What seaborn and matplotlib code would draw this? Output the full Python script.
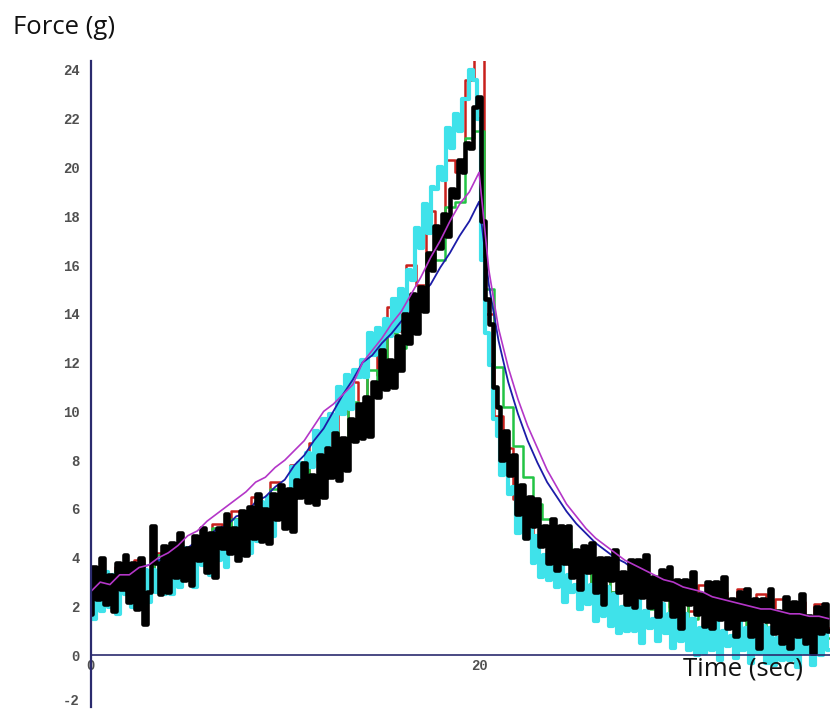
import numpy as np
import pandas as pd
import matplotlib
matplotlib.use("Agg")
import matplotlib.pyplot as plt
import matplotlib.transforms as mtransforms
import seaborn as sns

# Sampling intervals (seconds) of the recorded traces
fine_step = 0.2
coarse_step = 0.5

# Force readings (g), one list per trial; fine traces: 5 samples per second
force_black = [
    1.7, 3.6, 2.3, 4.0, 2.1,   3.3, 1.8, 3.8, 2.7, 4.1,
    2.2, 3.8, 1.9, 4.0, 1.3,   2.6, 5.3, 3.8, 2.5, 4.5,
    2.6, 4.6, 3.2, 5.0, 3.1,   4.4, 2.9, 4.9, 3.9, 5.2,
    3.4, 5.0, 3.2, 5.2, 4.4,   5.8, 4.2, 5.2, 3.9, 5.9,
    4.1, 6.1, 4.8, 6.6, 4.7,   6.0, 4.6, 6.6, 5.6, 7.0,
    5.2, 6.8, 5.1, 7.2, 6.5,   7.9, 6.3, 7.4, 6.2, 8.2,
    6.5, 8.5, 7.3, 9.1, 7.2,   8.9, 7.6, 9.7, 8.8, 10.3,
    8.9, 10.6, 9.0, 11.2, 10.6,  12.5, 10.9, 12.1, 11.0, 13.1,
    11.7, 14.0, 12.8, 14.8, 13.2,  15.1, 14.1, 16.5, 15.8, 17.6,
    16.7, 18.1, 17.2, 19.1, 18.8,  20.3, 19.8, 21.0, 20.8, 22.5,
    22.9, 17.8, 14.6, 13.6, 11.0,  10.2, 8.0, 9.2, 7.4, 8.2,
    5.8, 7.0, 4.8, 6.5, 5.3,   6.4, 4.5, 5.3, 3.8, 5.6,
    3.5, 5.3, 3.8, 5.3, 3.2,   4.3, 2.7, 4.5, 3.4, 4.6,
    2.6, 4.0, 2.1, 4.0, 3.1,   4.3, 2.6, 3.4, 2.1, 3.9,
    2.0, 3.9, 2.4, 4.1, 2.0,   3.2, 1.6, 3.5, 2.3, 3.6,
    1.6, 3.1, 1.1, 3.1, 2.1,   3.4, 1.7, 2.5, 1.2, 3.0,
    1.1, 3.0, 1.5, 3.2, 1.1,   2.3, 0.8, 2.6, 1.5, 2.7,
    0.8, 2.3, 0.3, 2.3, 1.4,   2.7, 0.9, 1.8, 0.5, 2.4,
    0.3, 2.2, 0.8, 2.5, 0.5,   1.6, 0.1, 2.0, 0.9, 2.1,
    1.0,
]
force_cyan = [
    3.0, 1.5, 2.7, 1.8, 3.4,   2.0, 3.3, 1.7, 3.0, 2.5,
    2.9, 2.0, 3.7, 2.5, 3.5,   2.2, 3.5, 2.6, 3.9, 2.5,
    3.9, 2.5, 3.6, 2.8, 4.4,   3.1, 4.4, 2.8, 4.2, 3.7,
    4.2, 3.3, 5.0, 3.9, 4.9,   3.6, 5.0, 4.2, 5.5, 4.1,
    5.6, 4.2, 5.4, 4.7, 6.3,   5.0, 6.5, 4.9, 6.4, 5.9,
    6.5, 5.8, 7.7, 6.7, 7.9,   6.7, 8.3, 7.7, 9.2, 8.0,
    9.7, 8.5, 9.9, 9.2, 11.0,  9.9, 11.5, 10.1, 11.7, 11.4,
    12.1, 11.4, 13.2, 12.3, 13.4,  12.2, 13.8, 13.1, 14.6, 13.3,
    15.0, 14.1, 15.8, 15.4, 17.5,  16.7, 18.5, 17.3, 19.2, 19.1,
    20.0, 19.5, 21.6, 20.8, 22.2,  21.5, 22.8, 22.8, 24.0, 23.6,
    22.0, 16.2, 13.2, 11.9, 9.7,   9.0, 7.4, 8.3, 6.6, 6.9,
    5.0, 6.0, 4.8, 5.6, 3.8,   4.9, 3.2, 4.1, 3.1, 4.4,
    2.8, 4.0, 2.2, 3.3, 2.6,   2.9, 1.9, 3.4, 2.1, 2.9,
    1.4, 2.6, 1.6, 2.8, 1.2,   2.5, 0.9, 2.0, 1.0, 2.5,
    1.0, 2.3, 0.5, 1.8, 1.1,   1.5, 0.6, 2.1, 0.9, 1.7,
    0.3, 1.5, 0.6, 1.7, 0.2,   1.5, 0.0, 1.1, 0.1, 1.6,
    0.2, 1.5, -0.2, 1.0, 0.4,  0.8, -0.1, 1.5, 0.2, 1.1,
    -0.3, 1.0, 0.1, 1.2, -0.3,  1.1, -0.4, 0.7, -0.2, 1.3,
    -0.2, 1.1, -0.5, 0.7, 0.1,  0.5, -0.4, 1.2, 0.0, 0.9,
    0.2,
]
# coarse traces: 2 samples per second
force_red = [
    2.4, 3.4, 2.2, 3.6, 2.6, 3.9, 2.9, 4.2, 3.2, 4.5, 3.5, 4.9,
    3.9, 5.4, 4.2, 5.9, 4.8, 6.5, 5.3, 7.1, 5.9, 7.8, 6.6, 8.7,
    7.6, 9.9, 8.7, 11.2, 10.0, 12.7, 11.5, 14.3, 13.3, 16.0, 15.2, 18.2,
    17.4, 20.3, 19.8, 23.6, 24.5, 14.0, 9.8, 8.5, 6.4, 6.2, 4.8, 4.9,
    4.0, 4.3, 3.3, 3.8, 2.9, 3.6, 2.6, 3.3, 2.4, 3.1, 2.2, 3.0,
    2.0, 2.8, 1.8, 2.9, 1.7, 2.6, 1.6, 2.7, 1.5, 2.5, 1.4, 2.3,
    1.3, 2.2, 1.2, 2.1, 1.1,
]
force_green = [
    2.0, 3.3, 2.4, 3.5, 2.5, 3.8, 2.8, 4.1, 3.0, 4.5, 3.5, 4.8,
    3.7, 5.2, 4.3, 5.6, 4.6, 6.1, 5.2, 6.8, 5.8, 7.2, 6.5, 8.3,
    7.6, 9.2, 8.7, 10.4, 9.8, 11.7, 11.2, 13.2, 12.6, 14.6, 14.2, 16.5,
    16.2, 18.4, 18.6, 21.2, 21.5, 15.0, 11.8, 10.2, 8.6, 7.3, 6.2, 5.6,
    4.9, 4.6, 3.7, 3.8, 2.9, 3.3, 2.6, 2.8, 2.2, 2.7, 1.9, 2.4,
    1.7, 2.2, 1.5, 2.0, 1.4, 1.9, 1.2, 1.8, 1.1, 1.6, 1.0, 1.5,
    0.9, 1.4, 0.8, 1.3, 0.7,
]
force_blue = [
    2.8, 3.1, 3.0, 3.3, 3.4, 3.6, 3.7, 3.9, 4.0, 4.3, 4.4, 4.7,
    4.8, 5.2, 5.3, 5.7, 5.8, 6.3, 6.5, 6.9, 7.2, 7.8, 8.2, 8.8,
    9.3, 10.0, 10.7, 11.3, 12.0, 12.3, 12.8, 13.2, 13.7, 14.1, 14.8, 15.2,
    15.9, 16.5, 17.2, 17.8, 18.6, 15.2, 12.9, 11.2, 9.9, 8.8, 7.9, 7.1,
    6.5, 5.9, 5.4, 5.0, 4.6, 4.3, 4.0, 3.8, 3.5, 3.3, 3.1, 3.0,
    2.8, 2.7, 2.5, 2.4, 2.3, 2.2, 2.1, 2.0, 1.9, 1.9, 1.8, 1.7,
    1.7, 1.6, 1.6, 1.5, 1.5,
]
force_magenta = [
    2.6, 3.0, 2.9, 3.3, 3.3, 3.6, 3.7, 4.0, 4.2, 4.5, 4.9, 5.1,
    5.5, 5.8, 6.1, 6.4, 6.7, 7.1, 7.3, 7.7, 8.0, 8.4, 8.8, 9.4,
    10.0, 10.3, 10.7, 11.1, 12.0, 12.5, 13.0, 13.6, 14.1, 14.8, 15.5, 16.3,
    17.0, 17.8, 18.5, 19.0, 19.8, 15.8, 13.4, 11.8, 10.5, 9.4, 8.5, 7.6,
    6.9, 6.2, 5.7, 5.2, 4.8, 4.5, 4.2, 3.9, 3.7, 3.5, 3.3, 3.1,
    3.0, 2.8, 2.7, 2.6, 2.4, 2.3, 2.2, 2.1, 2.0, 1.9, 1.9, 1.8,
    1.7, 1.7, 1.6, 1.6, 1.5,
]

y_ticks = list(range(-2, 25, 2))
x_ticks = [0, 20]
x_tick_labels = ["0", "20"]

t_fine = np.arange(len(force_black)) * fine_step
t_coarse = np.arange(len(force_red)) * coarse_step

axis_color = "#2b2b6e"

sns.set_style("white")
fig = plt.figure(figsize=(8.3, 7.1), dpi=100)
ax = fig.add_axes([90.5 / 830, 3 / 710, 1 - 90.5 / 830, (707 - 61.4) / 710])

# noisy recordings are drawn as stepped traces, smooth ones as plain lines
traces = [
    (t_coarse, force_red, "#c8201c", 1.8, "steps-mid"),
    (t_coarse, force_green, "#22c444", 1.8, "steps-mid"),
    (t_fine, force_cyan, "#3fe2ea", 3.0, "steps-mid"),
    (t_coarse, force_blue, "#1c1ca8", 1.3, "default"),
    (t_fine, force_black, "#000000", 3.3, "steps-mid"),
    (t_coarse, force_magenta, "#b436c8", 1.2, "default"),
]
for t, f, col, lw, ds in traces:
    df = pd.DataFrame({"t": t, "force": f})
    sns.lineplot(data=df, x="t", y="force", color=col, linewidth=lw,
                 estimator=None, sort=False, drawstyle=ds, ax=ax)

ax.set_xlim(0, 38.06)
ax.set_ylim(-2.12, 24.35)

for s in ["top", "right"]:
    ax.spines[s].set_visible(False)
ax.spines["left"].set_color(axis_color)
ax.spines["left"].set_linewidth(1.6)
ax.spines["bottom"].set_position(("data", 0))
ax.spines["bottom"].set_color(axis_color)
ax.spines["bottom"].set_linewidth(1.2)

ax.set_yticks(y_ticks)
ax.set_yticklabels([str(v) for v in y_ticks])
ax.set_xticks(x_ticks)
ax.set_xticklabels(x_tick_labels)
ax.tick_params(axis="y", direction="out", length=7, width=1.2, color=axis_color,
               pad=1, labelsize=10, labelcolor="#505050")
ax.tick_params(axis="x", direction="in", length=4, width=1.2, color=axis_color,
               pad=3, labelsize=10, labelcolor="#505050")
for lab in ax.get_yticklabels() + ax.get_xticklabels():
    lab.set_fontfamily("Liberation Mono")
    lab.set_fontweight("bold")
# lift the lowest label slightly so it stays inside the canvas
low = ax.get_yticklabels()[0]
low.set_transform(low.get_transform() +
                  mtransforms.ScaledTranslation(0, 3 / 72, fig.dpi_scale_trans))

ax.set_xlabel("")
ax.set_ylabel("")

fig.text(13 / 830, 1 - 27 / 710, "Force (g)", fontsize=18.5, family="Open Sans",
         ha="left", va="center", color="#111111")
fig.text(743 / 830, 1 - 669 / 710, "Time (sec)", fontsize=18.5, family="Open Sans",
         ha="center", va="center", color="#111111")

fig.savefig("out.png", dpi=100)
